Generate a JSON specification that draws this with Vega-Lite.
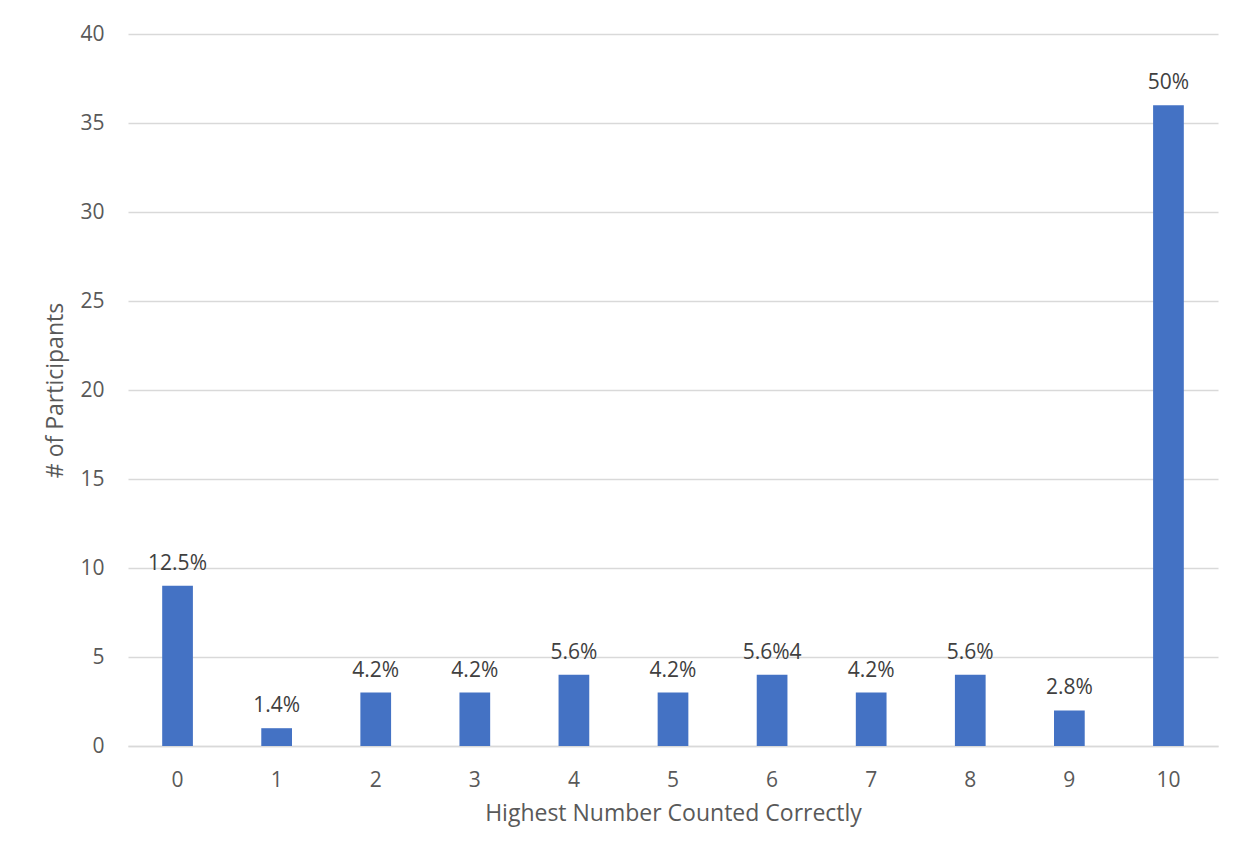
{
  "$schema": "https://vega.github.io/schema/vega-lite/v6.json",
  "autosize": "none",
  "width": 1090,
  "height": 712,
  "padding": {"left": 128, "top": 34, "right": 26, "bottom": 115},
  "background": "white",
  "config": {
    "font": "Open Sans",
    "view": {"stroke": null},
    "axis": {
      "labelColor": "#595959",
      "titleColor": "#595959",
      "labelFont": "Open Sans",
      "titleFont": "Open Sans",
      "labelFontSize": 21,
      "titleFontSize": 23,
      "titleFontWeight": "normal",
      "ticks": false,
      "gridColor": "#d9d9d9",
      "gridWidth": 1.3
    }
  },
  "data": {
    "values": [
      {"highest": "0", "participants": 9, "label": "12.5%"},
      {"highest": "1", "participants": 1, "label": "1.4%"},
      {"highest": "2", "participants": 3, "label": "4.2%"},
      {"highest": "3", "participants": 3, "label": "4.2%"},
      {"highest": "4", "participants": 4, "label": "5.6%"},
      {"highest": "5", "participants": 3, "label": "4.2%"},
      {"highest": "6", "participants": 4, "label": "5.6%4"},
      {"highest": "7", "participants": 3, "label": "4.2%"},
      {"highest": "8", "participants": 4, "label": "5.6%"},
      {"highest": "9", "participants": 2, "label": "2.8%"},
      {"highest": "10", "participants": 36, "label": "50%"}
    ]
  },
  "encoding": {
    "x": {
      "field": "highest",
      "type": "ordinal",
      "sort": null,
      "title": "Highest Number Counted Correctly",
      "scale": {"paddingInner": 0.69, "paddingOuter": 0.345},
      "axis": {
        "labelAngle": 0,
        "labelPadding": 23,
        "titlePadding": 12,
        "domainColor": "#d9d9d9",
        "domainWidth": 1.3
      }
    },
    "y": {
      "field": "participants",
      "type": "quantitative",
      "title": "# of Participants",
      "scale": {"domain": [0, 40], "nice": false},
      "axis": {
        "values": [0, 5, 10, 15, 20, 25, 30, 35, 40],
        "domain": false,
        "labelPadding": 24,
        "titlePadding": 12
      }
    }
  },
  "layer": [
    {"mark": {"type": "bar", "color": "#4472C4"}},
    {
      "mark": {
        "type": "text",
        "baseline": "bottom",
        "dy": -12,
        "fontSize": 21,
        "font": "Open Sans",
        "color": "#404040"
      },
      "encoding": {"text": {"field": "label"}}
    }
  ]
}
